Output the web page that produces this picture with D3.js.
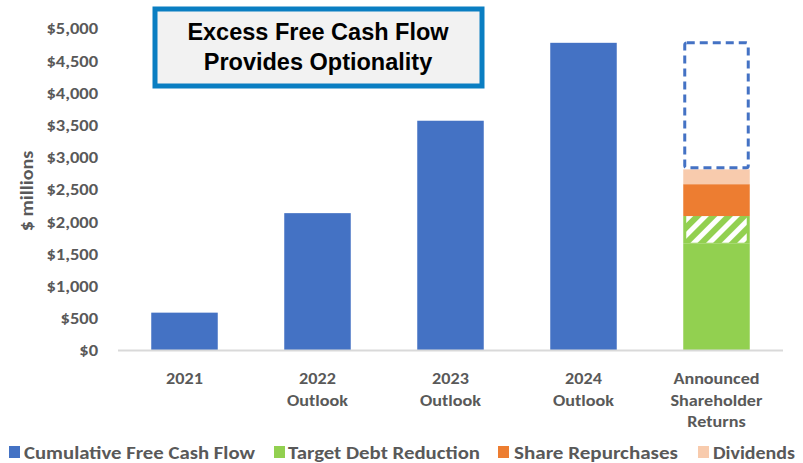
<!DOCTYPE html>
<html>
<head>
<meta charset="utf-8">
<script src="https://cdn.jsdelivr.net/npm/d3@7"></script>
<style>
  html, body { margin: 0; padding: 0; background: #fff; }
  svg { display: block; }
</style>
</head>
<body>
<svg id="chart" width="803" height="463"></svg>
<script>
// ---- data ----
const categories = ["2021", "2022 Outlook", "2023 Outlook", "2024 Outlook", "Announced Shareholder Returns"];
const categoryLines = [["2021"], ["2022", "Outlook"], ["2023", "Outlook"], ["2024", "Outlook"], ["Announced", "Shareholder", "Returns"]];
const cumulativeFCF = [580, 2125, 3560, 4770, null];
const returnParts = ["Target Debt Reduction", "Target Debt Reduction (hatched)", "Share Repurchases", "Dividends"];
const returnValues = [1650, 430, 495, 230];
const excessTotal = 4770; // dashed outline reaches cumulative FCF
const yTicks = [0, 500, 1000, 1500, 2000, 2500, 3000, 3500, 4000, 4500, 5000];
const legendNames = ["Cumulative Free Cash Flow", "Target Debt Reduction", "Share Repurchases", "Dividends"];
const titleLines = ["Excess Free Cash Flow", "Provides Optionality"];

// ---- styles ----
const C = { blue: "#4472C4", green: "#92D050", orange: "#ED7D31", peach: "#F8CBAD", text: "#595959", axis: "#D9D9D9", frame: "#0A7EC2" };
const font = "Carlito, Lato, 'Open Sans', sans-serif";

function stretch(sel, f) {
  sel.each(function () {
    const L = this.getComputedTextLength();
    d3.select(this).attr("textLength", L * f).attr("lengthAdjust", "spacingAndGlyphs");
  });
}

const svg = d3.select("#chart");

const x = d3.scaleBand().domain(categories).range([118, 783]).paddingInner(0.5).paddingOuter(0.25);
const y = d3.scaleLinear().domain([0, 5000]).range([350, 28]);

const defs = svg.append("defs");
const pat = defs.append("pattern").attr("id", "hatch").attr("patternUnits", "userSpaceOnUse")
  .attr("width", 11).attr("height", 11).attr("patternTransform", "rotate(45)");
pat.append("rect").attr("width", 11).attr("height", 11).attr("fill", C.green);
pat.append("rect").attr("x", 0).attr("width", 5).attr("height", 11).attr("fill", "#fff");

// y axis ticks (labels only)
const yAxis = d3.axisLeft(y).tickValues(yTicks).tickSize(0).tickPadding(0)
  .tickFormat(d => "$" + d3.format(",")(d));
const gy = svg.append("g").attr("transform", "translate(98,0)").call(yAxis);
gy.select(".domain").remove();
gy.selectAll("text").attr("font-family", font).attr("font-weight", 700)
  .attr("font-size", 16.5).attr("fill", C.text).attr("dy", "0.36em");
stretch(gy.selectAll("text"), 1.12);

// y axis title
const yt = svg.append("text").attr("transform", "translate(33,191) rotate(-90)")
  .attr("text-anchor", "middle").attr("font-family", font).attr("font-weight", 700)
  .attr("font-size", 18).attr("fill", C.text).text("$ millions");
stretch(yt, 1.12);

// blue bars
svg.append("g").selectAll("rect").data(categories.map((c, i) => ({ c, v: cumulativeFCF[i] })).filter(d => d.v != null))
  .join("rect")
  .attr("x", d => x(d.c)).attr("width", x.bandwidth())
  .attr("y", d => y(d.v)).attr("height", d => y(0) - y(d.v))
  .attr("fill", C.blue);

// stacked returns bar
const last = categories[4];
let cum = 0;
const stackData = returnValues.map((v, i) => { const d = { name: returnParts[i], y0: cum, y1: cum + v }; cum += v; return d; });
const fills = [C.green, C.green, C.orange, C.peach];
const gs = svg.append("g");
stackData.forEach((d, i) => {
  gs.append("rect").attr("x", x(last)).attr("width", x.bandwidth())
    .attr("y", y(d.y1)).attr("height", y(d.y0) - y(d.y1)).attr("fill", fills[i]);
  if (i === 1) {
    gs.append("rect").attr("x", x(last) + 3).attr("width", x.bandwidth() - 6)
      .attr("y", y(d.y1)).attr("height", y(d.y0) - y(d.y1) - 1).attr("fill", "url(#hatch)");
  }
});
// dashed optionality box
svg.append("rect").attr("x", x(last) + 1.5).attr("width", x.bandwidth() - 3)
  .attr("y", y(excessTotal)).attr("height", y(cum) - y(excessTotal) - 1.5)
  .attr("rx", 2).attr("fill", "none").attr("stroke", C.blue)
  .attr("stroke-width", 3).attr("stroke-dasharray", "8,5");

// x axis line
svg.append("line").attr("x1", 118).attr("x2", 783).attr("y1", y(0) + 0.5).attr("y2", y(0) + 0.5)
  .attr("stroke", C.axis).attr("stroke-width", 2);

// x labels
const gx = svg.append("g");
categories.forEach((c, i) => {
  categoryLines[i].forEach((l, j) => gx.append("text")
    .attr("x", x(c) + x.bandwidth() / 2).attr("y", 384 + j * 21.5)
    .attr("text-anchor", "middle").attr("font-family", font).attr("font-weight", 700)
    .attr("font-size", 16.5).attr("fill", C.text).text(l));
});
stretch(gx.selectAll("text"), 1.1);

// title box
svg.append("rect").attr("x", 155).attr("y", 9).attr("width", 327).attr("height", 77)
  .attr("fill", "#F2F2F2").attr("stroke", C.frame).attr("stroke-width", 5);
titleLines.forEach((l, i) => svg.append("text").attr("x", 318).attr("y", 40 + i * 29.5)
  .attr("text-anchor", "middle").attr("font-family", "'Liberation Sans', Arial, sans-serif")
  .attr("font-weight", 700).attr("font-size", 23.5).attr("fill", "#000").text(l));

// legend
const legendColors = [C.blue, C.green, C.orange, C.peach];
const legendSwatchX = [9, 274, 498, 698];
const legendTextX = [24, 288, 514, 713];
const legendTextW = [231, 192, 164, 82];
legendNames.forEach((n, i) => {
  svg.append("rect").attr("x", legendSwatchX[i]).attr("y", 446).attr("width", 11).attr("height", 12).attr("fill", legendColors[i]);
  svg.append("text").attr("x", legendTextX[i]).attr("y", 458.5).attr("font-family", font)
    .attr("font-weight", 700).attr("font-size", 17).attr("fill", C.text)
    .attr("textLength", legendTextW[i]).attr("lengthAdjust", "spacingAndGlyphs").text(n);
});
</script>
</body>
</html>
